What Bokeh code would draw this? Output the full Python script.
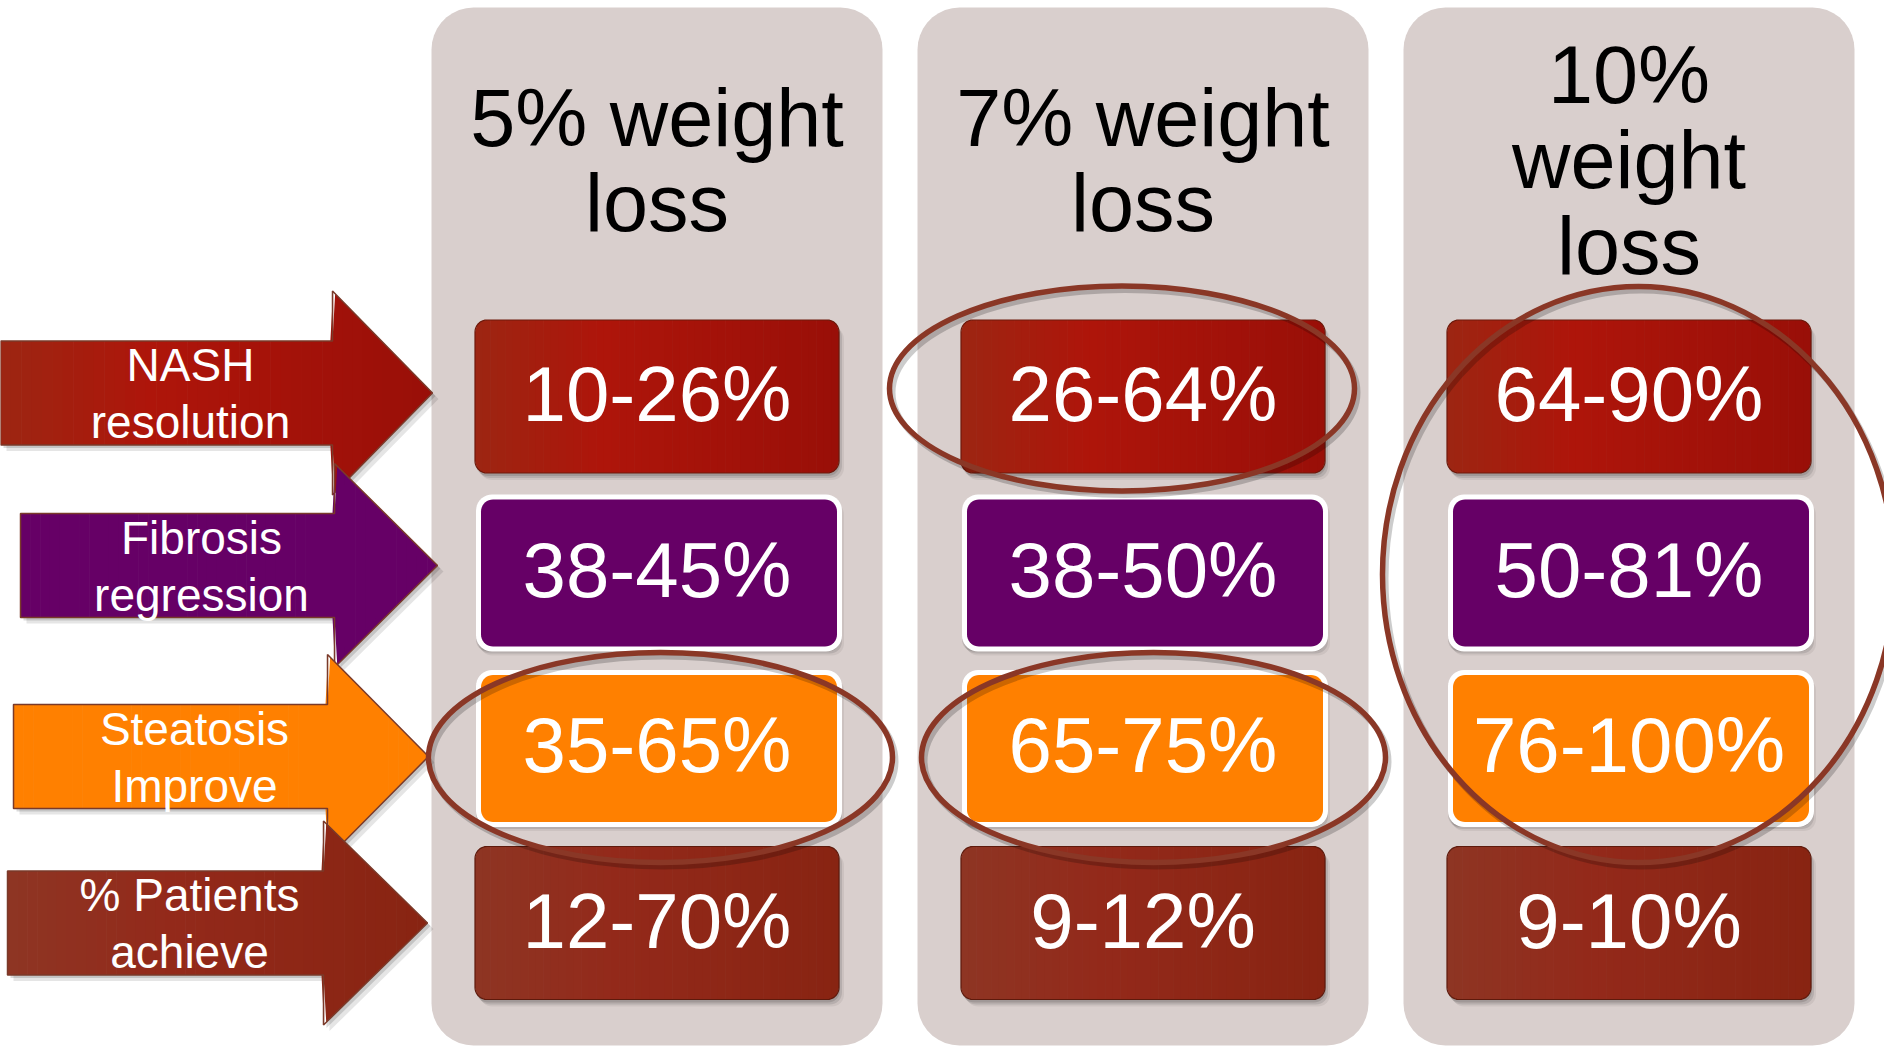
import numpy as np
from bokeh.plotting import figure
from bokeh.models import Range1d
from bokeh.embed import file_html
from bokeh.resources import INLINE
from bokeh.core.properties import value

# ---------------- data ----------------
col_headers = [["5% weight", "loss"], ["7% weight", "loss"], ["10%", "weight", "loss"]]
row_labels = [["NASH", "resolution"], ["Fibrosis", "regression"],
              ["Steatosis", "Improve"], ["% Patients", "achieve"]]
values = [
    ["10-26%", "26-64%", "64-90%"],
    ["38-45%", "38-50%", "50-81%"],
    ["35-65%", "65-75%", "76-100%"],
    ["12-70%", "9-12%", "9-10%"],
]
# highlighted cells: (column, first row, last row)
highlights = [(1, 0, 0), (0, 2, 2), (1, 2, 2), (2, 0, 2)]

# ---------------- layout / style ----------------
W, H = 1884, 1046
panel_left0, panel_step, panel_w = 431, 486, 451
panel_top, panel_bottom, panel_r = 7, 1045, 42
panel_color = "#D9CFCD"
box_w, box_h, box_r = 364, 153, 12
row_c0, row_step = 396, 175.5
# gradient stops per row (position, colour)
row_grad = [
    [(0.0, "#9C2612"), (0.35, "#AE150A"), (1.0, "#990F08")],
    [(0.0, "#660066"), (1.0, "#660066")],
    [(0.0, "#FF8000"), (1.0, "#FF8000")],
    [(0.0, "#8E3523"), (0.4, "#93291A"), (1.0, "#882412")],
]
row_outline = ["#6E1A0C", None, None, "#5E1A0C"]
row_white_border = [False, True, True, False]
header_mid, header_step = 189, 85.5
header_fs, value_fs, label_fs = 81, 78, 46
base_corr = 0.36          # renderer places alphabetic baseline ~0.36em low
arrow_x0 = [0, 20, 13, 7]
arrow_neck = [332, 334, 327, 323]
arrow_tip = [432, 437, 428, 427]
arrow_cy = [392.5, 565, 756, 922.5]
shaft_half, head_half = 52, 102
ell_dx = [-21, 3.5, 10.5, 9.5]
ell_dy = [-8, 10, 10, 2.5]
ell_pad_w = [101, 100, 100, 148]
ell_pad_h = [52, 57, 57, 72]
ell_color = "#8A3726"
FONT = value("Liberation Sans")


def hex2rgb(h):
    return np.array([int(h[i:i + 2], 16) for i in (1, 3, 5)], dtype=float)


def grad_color(stops, t):
    for (t0, c0), (t1, c1) in zip(stops[:-1], stops[1:]):
        if t <= t1 or (t1 == stops[-1][0]):
            u = 0 if t1 == t0 else min(max((t - t0) / (t1 - t0), 0), 1)
            c = hex2rgb(c0) * (1 - u) + hex2rgb(c1) * u
            return "#%02x%02x%02x" % tuple(int(round(v)) for v in c)
    return stops[-1][1]


def rrect(x0, y0, x1, y1, r, n=10):
    xs, ys = [], []
    corners = [(x1 - r, y0 + r, -90, 0), (x1 - r, y1 - r, 0, 90),
               (x0 + r, y1 - r, 90, 180), (x0 + r, y0 + r, 180, 270)]
    for cx, cy, a0, a1 in corners:
        for t in np.linspace(np.radians(a0), np.radians(a1), n):
            xs.append(cx + r * np.cos(t))
            ys.append(cy + r * np.sin(t))
    return xs, ys


def rr_extent(x, x0, y0, x1, y1, r):
    if x < x0 + r:
        d = x0 + r - x
    elif x > x1 - r:
        d = x - (x1 - r)
    else:
        d = 0
    off = r - np.sqrt(max(r * r - d * d, 0))
    return y0 + off, y1 - off


def strip_poly(a, b, extent):
    xs = list(np.linspace(a, b, 5))
    tops = [extent(x)[0] for x in xs]
    bots = [extent(x)[1] for x in xs]
    return xs + xs[::-1], tops + bots[::-1]


def gradient_fill(p, x0, x1, extent, stops, n=48, edges=None):
    if edges is None:
        edges = list(np.linspace(x0, x1, n + 1))
    sx, sy, cols = [], [], []
    for a, b in zip(edges[:-1], edges[1:]):
        xs, ys = strip_poly(a, b + 0.6 if b < x1 else b, extent)
        sx.append(xs); sy.append(ys)
        cols.append(grad_color(stops, ((a + b) / 2 - x0) / (x1 - x0)))
    p.patches(sx, sy, fill_color=cols, line_color=None)


p = figure(width=W, height=H, output_backend="svg", toolbar_location=None,
           x_range=Range1d(0, W), y_range=Range1d(H, 0), min_border=0)
p.axis.visible = False
p.grid.visible = False
p.outline_line_color = None
p.background_fill_color = "white"
p.border_fill_color = "white"

ncol = len(col_headers)
nrow = len(row_labels)
col_cx = [panel_left0 + i * panel_step + panel_w / 2 for i in range(ncol)]
row_cy = [row_c0 + j * row_step for j in range(nrow)]

# panels
pxs, pys = [], []
for i in range(ncol):
    x0 = panel_left0 + i * panel_step
    xs, ys = rrect(x0, panel_top, x0 + panel_w, panel_bottom, panel_r)
    pxs.append(xs); pys.append(ys)
p.patches(pxs, pys, fill_color=panel_color, line_color=None)

# headers
for i, lines in enumerate(col_headers):
    n = len(lines)
    ys = [header_mid + (k - (n - 1) / 2) * header_step - base_corr * header_fs
          for k in range(n)]
    p.text(x=[col_cx[i]] * n, y=ys, text=lines, text_font=FONT,
           text_font_size=value("%dpx" % header_fs), text_color="black",
           text_align="center", text_baseline="alphabetic")

# value boxes
for j in range(nrow):
    for i in range(ncol):
        cx, cy = col_cx[i], row_cy[j]
        x0, x1 = cx - box_w / 2, cx + box_w / 2
        y0, y1 = cy - box_h / 2, cy + box_h / 2
        for off, a in [(3, 0.12), (5, 0.10), (7, 0.06)]:
            sx, sy = rrect(x0 + off - 2, y0 + off, x1 + off - 2, y1 + off, box_r)
            p.patch(sx, sy, fill_color="black", fill_alpha=a, line_color=None)
        if row_white_border[j]:
            ox, oy = rrect(x0 + 1, y0 - 1, x1 + 3, y1 + 3, box_r + 4)
            p.patch(ox, oy, fill_color="white", line_color=None)
            ix, iy = rrect(x0 + 6, y0 + 4, x1 - 2, y1 - 2, box_r)
            p.patch(ix, iy, fill_color=row_grad[j][0][1], line_color=None)
        else:
            ext = (lambda X0, Y0, X1, Y1: (lambda x: rr_extent(x, X0, Y0, X1, Y1, box_r)))(x0, y0, x1, y1)
            gradient_fill(p, x0, x1, ext, row_grad[j])
            bx, by = rrect(x0, y0, x1, y1, box_r)
            p.patch(bx, by, fill_alpha=0, line_color=row_outline[j], line_width=1.2)
        p.text(x=[cx], y=[cy + 26 - base_corr * value_fs], text=[values[j][i]],
               text_font=FONT, text_font_size=value("%dpx" % value_fs),
               text_color="white", text_align="center", text_baseline="alphabetic")

# arrows
for j in range(nrow):
    x0, nk, tp, cy = arrow_x0[j], arrow_neck[j], arrow_tip[j], arrow_cy[j]
    ax = [x0, nk, nk, tp, nk, nk, x0]
    ay = [cy - shaft_half, cy - shaft_half, cy - head_half, cy,
          cy + head_half, cy + shaft_half, cy + shaft_half]
    for off, a in [(3, 0.14), (6, 0.10)]:
        p.patch([x + off for x in ax], [y + off for y in ay], fill_color="black",
                fill_alpha=a, line_color=None)

    def aext(x, nk=nk, tp=tp, cy=cy):
        if x <= nk + 1e-6:
            return cy - shaft_half, cy + shaft_half
        h = head_half * max(tp - x, 0) / (tp - nk)
        return cy - h, cy + h

    edges = list(np.linspace(x0, nk, 33)) + list(np.linspace(nk, tp, 11))[1:]
    gradient_fill(p, x0, tp, aext, row_grad[j], edges=edges)
    p.patch(ax, ay, fill_alpha=0, line_color="#7A3A2A", line_width=1.5)
    tx = (x0 + nk) / 2 + 24
    p.text(x=[tx, tx], y=[cy - 11 - base_corr * label_fs, cy + 46 - base_corr * label_fs],
           text=row_labels[j], text_font=FONT,
           text_font_size=value("%dpx" % label_fs), text_color="white",
           text_align="center", text_baseline="alphabetic")

# highlight ellipses
for k, (c, r0, r1) in enumerate(highlights):
    cx = col_cx[c] + ell_dx[k]
    cy = (row_cy[r0] + row_cy[r1]) / 2 + ell_dy[k]
    w = box_w + ell_pad_w[k]
    h = (r1 - r0) * row_step + box_h + ell_pad_h[k]
    p.ellipse(x=[cx + 3], y=[cy + 4], width=[w], height=[h], fill_alpha=0,
              line_color="black", line_alpha=0.2, line_width=6)
    p.ellipse(x=[cx], y=[cy], width=[w], height=[h], fill_alpha=0,
              line_color=ell_color, line_width=5.5)

open("out.html", "w").write(file_html(p, INLINE))
